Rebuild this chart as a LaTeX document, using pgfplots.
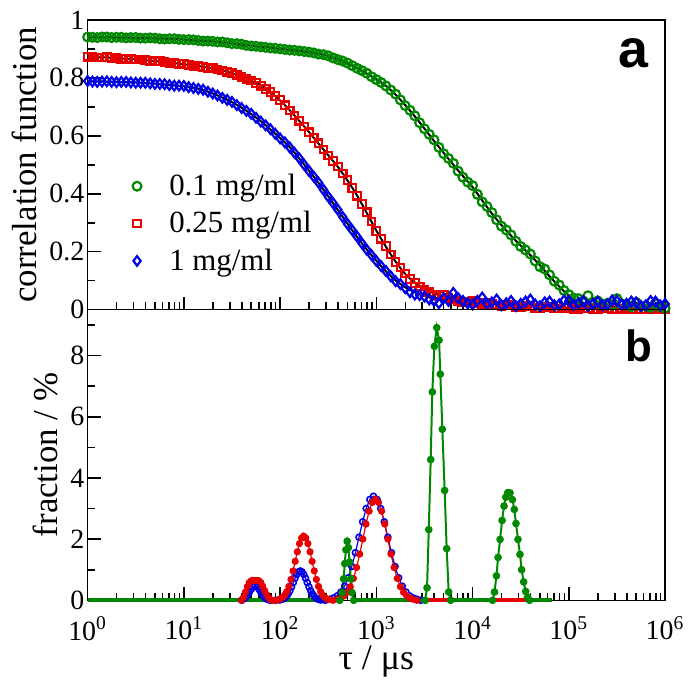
\documentclass[border=0pt]{standalone}
\usepackage{fontspec}
\setmainfont{Liberation Serif}
\newfontfamily\labsans{Liberation Sans}
\usepackage{pgfplots}
\usepackage{pgfplotstable}
\pgfplotsset{compat=1.18}
\usetikzlibrary{calc}
\definecolor{cgreen}{RGB}{0,136,0}
\definecolor{cred}{RGB}{230,0,0}
\definecolor{cblue}{RGB}{0,0,230}

% fitted correlation functions: lx = log10(tau/us)
\pgfplotstableread{
lx g r b
0.0 .940 .872 .788
0.1 .940 .871 .788
0.2 .940 .870 .787
0.3 .939 .868 .786
0.4 .939 .866 .785
0.5 .938 .864 .784
0.6 .937 .861 .782
0.7 .936 .858 .780
0.8 .935 .855 .777
0.9 .934 .851 .774
1.0 .932 .847 .771
1.1 .930 .843 .766
1.2 .928 .838 .758
1.3 .926 .832 .746
1.4 .923 .826 .732
1.5 .919 .816 .716
1.6 .915 .804 .697
1.7 .911 .790 .675
1.8 .907 .774 .650
1.9 .904 .750 .622
2.0 .900 .722 .592
2.1 .897 .688 .561
2.2 .893 .651 .521
2.3 .889 .613 .480
2.4 .883 .573 .437
2.5 .875 .533 .391
2.6 .864 .493 .344
2.7 .850 .446 .297
2.8 .834 .394 .251
2.9 .815 .334 .208
3.0 .795 .273 .169
3.1 .772 .217 .132
3.2 .742 .166 .101
3.3 .706 .123 .077
3.4 .667 .094 .060
3.5 .625 .071 .047
3.6 .582 .056 .039
3.7 .541 .046 .034
3.8 .500 .039 .030
3.9 .461 .034 .028
4.0 .423 .030 .026
4.1 .377 .028 .025
4.2 .332 .026 .023
4.3 .292 .024 .022
4.4 .255 .022 .020
4.5 .221 .019 .018
4.6 .188 .016 .015
4.7 .153 .013 .012
4.8 .115 .010 .010
4.9 .080 .008 .008
5.0 .048 .006 .006
5.1 .030 .005 .005
5.2 .018 .004 .004
5.3 .012 .004 .004
5.4 .008 .003 .003
5.5 .006 .003 .003
5.6 .004 .003 .003
5.7 .003 .002 .002
5.8 .003 .002 .002
5.9 .002 .002 .002
6.0 .002 .002 .002
}\fits

% measured correlation functions
\pgfplotstableread{
lx g r b
0.00 .941 .873 .789
0.05 .940 .871 .787
0.10 .939 .870 .786
0.15 .941 .870 .787
0.20 .941 .871 .788
0.25 .939 .869 .786
0.30 .940 .868 .785
0.35 .940 .866 .786
0.40 .938 .867 .786
0.45 .939 .864 .784
0.50 .939 .863 .783
0.55 .937 .863 .783
0.60 .937 .862 .783
0.65 .938 .859 .781
0.70 .937 .857 .779
0.75 .935 .857 .779
0.80 .934 .856 .778
0.85 .935 .852 .775
0.90 .935 .850 .773
0.95 .933 .849 .773
1.00 .932 .848 .772
1.05 .932 .845 .768
1.10 .931 .842 .765
1.15 .929 .841 .762
1.20 .927 .838 .759
1.25 .927 .835 .752
1.30 .926 .833 .746
1.35 .924 .829 .739
1.40 .924 .825 .731
1.45 .921 .821 .724
1.50 .918 .817 .717
1.55 .918 .810 .706
1.60 .916 .803 .696
1.65 .912 .797 .686
1.70 .910 .791 .676
1.75 .909 .782 .662
1.80 .907 .773 .649
1.85 .905 .762 .636
1.90 .903 .751 .623
1.95 .902 .737 .607
2.00 .900 .723 .591
2.05 .898 .705 .577
2.10 .896 .687 .560
2.15 .895 .670 .541
2.20 .893 .652 .522
2.25 .891 .632 .500
2.30 .889 .612 .479
2.35 .886 .593 .459
2.40 .882 .574 .438
2.45 .880 .553 .414
2.50 .876 .532 .390
2.55 .869 .513 .368
2.60 .863 .494 .345
2.65 .858 .470 .320
2.70 .851 .447 .296
2.75 .842 .420 .274
2.80 .833 .393 .252
2.85 .825 .365 .229
2.90 .816 .336 .207
2.95 .804 .304 .188
3.00 .794 .272 .168
3.05 .784 .245 .150
3.10 .772 .219 .133
3.15 .758 .190 .115
3.20 .744 .165 .098
3.25 .724 .145 .088
3.30 .704 .125 .074
3.35 .688 .106 .060
3.40 .669 .092 .052
3.45 .645 .080 .050
3.50 .624 .068 .045
3.55 .605 .060 .035
3.60 .586 .052 .030
3.65 .560 .048 .022
3.70 .538 .050 .040
3.75 .522 .040 .030
3.80 .505 .035 .058
3.85 .478 .030 .040
3.90 .457 .025 .030
3.95 .440 .028 .022
4.00 .428 .030 .018
4.05 .398 .022 .030
4.10 .372 .018 .042
4.15 .356 .024 .020
4.20 .335 .020 .025
4.25 .310 .014 .035
4.30 .288 .012 .015
4.35 .275 .018 .022
4.40 .258 .015 .030
4.45 .236 .010 .012
4.50 .218 .008 .020
4.55 .206 .012 .028
4.60 .192 .012 .035
4.65 .168 .006 .018
4.70 .148 .005 .012
4.75 .140 .009 .025
4.80 .120 .008 .028
4.85 .098 .004 .015
4.90 .085 .004 .018
4.95 .066 .007 .032
5.00 .052 .006 .030
5.05 .040 .003 .015
5.10 .038 .003 .022
5.15 .030 .005 .030
5.20 .048 .005 .012
5.25 .025 .002 .020
5.30 .030 .002 .028
5.35 .018 .004 .015
5.40 .022 .004 .018
5.45 .015 .002 .032
5.50 .038 .002 .030
5.55 .020 .003 .018
5.60 .015 .003 .020
5.65 .010 .001 .028
5.70 .025 .001 .025
5.75 .012 .002 .012
5.80 .012 .002 .015
5.85 .008 .001 .030
5.90 .020 .001 .028
5.95 .010 .002 .015
6.00 .005 .002 .020
}\meas

% size distributions (fraction / %)
\pgfplotstableread{
lx y
1.60 0
1.62 0.10
1.64 0.27
1.66 0.45
1.68 0.58
1.70 0.64
1.72 0.65
1.74 0.65
1.76 0.65
1.78 0.64
1.80 0.58
1.82 0.46
1.84 0.32
1.86 0.19
1.88 0.08
1.90 0.02
1.92 0
1.96 0
1.981 0.023
2.003 0.048
2.025 0.092
2.047 0.167
2.069 0.284
2.091 0.454
2.113 0.682
2.135 0.961
2.157 1.274
2.179 1.585
2.201 1.853
2.223 2.035
2.245 2.100
2.267 2.035
2.289 1.853
2.311 1.585
2.333 1.274
2.355 0.961
2.377 0.682
2.399 0.454
2.421 0.284
2.443 0.167
2.465 0.092
2.487 0.048
2.509 0.023
2.55 0
2.600 0.037
2.6325 0.075
2.665 0.145
2.6975 0.263
2.730 0.446
2.7625 0.714
2.795 1.072
2.8275 1.511
2.860 2.001
2.8925 2.491
2.925 2.912
2.9575 3.198
2.990 3.300
3.0225 3.198
3.055 2.912
3.0875 2.491
3.120 2.001
3.1525 1.511
3.185 1.072
3.2175 0.714
3.250 0.446
3.2825 0.263
3.315 0.145
3.3475 0.075
3.380 0.037
3.42 0
}\distR

\pgfplotstableread{
lx y
1.60 0
1.62 0.04
1.64 0.09
1.66 0.16
1.68 0.26
1.70 0.36
1.72 0.44
1.74 0.47
1.76 0.44
1.78 0.36
1.80 0.26
1.82 0.16
1.84 0.09
1.86 0.04
1.88 0.02
1.90 0
1.95 0
1.994 0.011
2.012 0.022
2.030 0.042
2.048 0.076
2.066 0.130
2.084 0.208
2.102 0.312
2.120 0.439
2.138 0.582
2.156 0.725
2.174 0.847
2.192 0.930
2.210 0.960
2.228 0.930
2.246 0.847
2.264 0.725
2.282 0.582
2.300 0.439
2.318 0.312
2.336 0.208
2.354 0.130
2.372 0.076
2.390 0.042
2.408 0.022
2.426 0.011
2.47 0
2.520 0.038
2.5575 0.078
2.595 0.149
2.6325 0.271
2.670 0.460
2.7075 0.735
2.745 1.104
2.7825 1.557
2.820 2.062
2.8575 2.566
2.895 3.001
2.9325 3.295
2.970 3.400
3.0075 3.295
3.045 3.001
3.0825 2.566
3.120 2.062
3.1575 1.557
3.195 1.104
3.2325 0.735
3.270 0.460
3.3075 0.271
3.345 0.149
3.3825 0.078
3.420 0.038
3.46 0
}\distB

\pgfplotstableread{
lx y
2.620 0
2.645 0.25
2.660 0.70
2.672 1.20
2.684 1.65
2.697 1.93
2.710 1.72
2.722 1.25
2.735 0.70
2.748 0.25
2.765 0
3.507 0
3.527 0.41
3.545 2.31
3.565 4.60
3.582 6.81
3.603 8.30
3.628 8.91
3.652 8.50
3.665 7.39
3.686 5.59
3.710 3.59
3.731 1.69
3.752 0.27
3.772 0
4.208 0
4.228 0.27
4.248 0.80
4.265 1.40
4.286 1.99
4.307 2.61
4.327 3.08
4.345 3.37
4.366 3.52
4.389 3.51
4.414 3.29
4.434 2.97
4.451 2.51
4.472 1.99
4.493 1.50
4.510 1.00
4.531 0.60
4.552 0.29
4.572 0.10
4.592 0
}\distG

\begin{document}
\begin{tikzpicture}
\begin{axis}[name=top,
  scale only axis, width=290pt, height=145.5pt,
  xmode=log, xmin=1, xmax=1000000, clip=false,
  xtick pos=bottom, ytick pos=left,
  xtick align=inside, ytick align=inside,
  axis line style={line width=0.8pt},
  every tick/.style={black, line width=0.8pt},
  major tick length=6.5pt, minor tick length=3.8pt,
  xtick={1,10,100,1000,10000,100000,1000000},
  tick label style={font=\fontsize{14}{16}\selectfont},
  yticklabel style={inner xsep=1.5pt},
  /pgf/number format/assume math mode=true,
  label style={font=\fontsize{17.5}{20}\selectfont},
  ymin=0, ymax=1,
  ytick={0,0.2,0.4,0.6,0.8,1}, minor ytick={0.1,0.3,0.5,0.7,0.9},
  xticklabels={},
  ylabel={correlation function},
  ylabel style={at={($(rel axis cs:0,0.5)+(-25.5pt,0)$)}, anchor=base},
  legend cell align=left,
  legend style={draw=none, fill=none, at={(rel axis cs:0.067,0.49)}, anchor=north west,
    font=\fontsize{15.5}{18}\selectfont, row sep=4.5pt, column sep=10pt,
    nodes={inner ysep=1pt, inner xsep=4pt}},
]
\coordinate (tl) at (rel axis cs:0,1);
\addlegendimage{only marks, mark=o, mark size=2.2pt, cgreen, mark options={line width=1.1pt}}
\addlegendentry{0.1 mg/ml}
\addlegendimage{only marks, mark=square, mark size=1.9pt, cred, mark options={line width=1.1pt}}
\addlegendentry{0.25 mg/ml}
\addlegendimage{only marks, mark=diamond, mark size=2.4pt, cblue, mark options={line width=1.1pt}}
\addlegendentry{1 mg/ml}
\addplot[forget plot, only marks, mark=square, mark size=1.9pt, cred, mark options={line width=1.1pt}]
  table[x expr=10^\thisrow{lx}, y=r] {\meas};
\addplot[forget plot, only marks, mark=o, mark size=2.2pt, cgreen, mark options={line width=1.1pt}]
  table[x expr=10^\thisrow{lx}, y=g] {\meas};
\addplot[forget plot, only marks, mark=diamond, mark size=2.4pt, cblue, mark options={line width=1.1pt}]
  table[x expr=10^\thisrow{lx}, y=b] {\meas};
\addplot[forget plot, black, line width=1pt, smooth] table[x expr=10^\thisrow{lx}, y=r] {\fits};
\addplot[forget plot, black, line width=1pt, smooth] table[x expr=10^\thisrow{lx}, y=g] {\fits};
\addplot[forget plot, black, line width=1pt, smooth] table[x expr=10^\thisrow{lx}, y=b] {\fits};
% y tick marks on the left axis (6.5pt = 0.1345 decade, 3.8pt = 0.0786 decade)
\draw[line width=0.8pt] (axis cs:1,0.2) -- (axis cs:1.363,0.2);
\draw[line width=0.8pt] (axis cs:1,0.4) -- (axis cs:1.363,0.4);
\draw[line width=0.8pt] (axis cs:1,0.6) -- (axis cs:1.363,0.6);
\draw[line width=0.8pt] (axis cs:1,0.8) -- (axis cs:1.363,0.8);
\draw[line width=0.8pt] (axis cs:1,0.1) -- (axis cs:1.198,0.1);
\draw[line width=0.8pt] (axis cs:1,0.3) -- (axis cs:1.198,0.3);
\draw[line width=0.8pt] (axis cs:1,0.5) -- (axis cs:1.198,0.5);
\draw[line width=0.8pt] (axis cs:1,0.7) -- (axis cs:1.198,0.7);
\draw[line width=0.8pt] (axis cs:1,0.9) -- (axis cs:1.198,0.9);
\node[font=\labsans\bfseries\fontsize{27}{30}\selectfont] at (rel axis cs:0.945,0.885) {a};
\end{axis}

\begin{axis}[name=bot,
  at={(top.south west)}, anchor=north west,
  scale only axis, width=290pt, height=146pt,
  xmode=log, xmin=1, xmax=1000000, clip=false,
  xtick pos=bottom, ytick pos=left,
  xtick align=inside, ytick align=inside,
  axis line style={line width=0.8pt},
  every tick/.style={black, line width=0.8pt},
  major tick length=6.5pt, minor tick length=3.8pt,
  xtick={1,10,100,1000,10000,100000,1000000},
  tick label style={font=\fontsize{14}{16}\selectfont},
  yticklabel style={inner xsep=1.5pt},
  /pgf/number format/assume math mode=true,
  label style={font=\fontsize{17.5}{20}\selectfont},
  ymin=0, ymax=9.5,
  ytick={0,2,4,6,8}, minor ytick={1,3,5,7,9},
  xticklabels={10\textsuperscript{0},10\textsuperscript{1},10\textsuperscript{2},10\textsuperscript{3},10\textsuperscript{4},10\textsuperscript{5},10\textsuperscript{6}},
  xticklabel style={inner ysep=0pt, yshift=-8pt},
  xlabel={τ / μs},
  xlabel style={font=\fontsize{18}{21}\selectfont, at={($(rel axis cs:0.5,0)+(0,-34.5pt)$)}, anchor=base, inner ysep=0pt},
  ylabel={fraction / \%},
  ylabel style={at={($(rel axis cs:0,0.5)+(-15pt,0)$)}, anchor=base},
]
\coordinate (br) at (rel axis cs:1,0);
\addplot[cblue, line width=2pt] coordinates {(2884,0) (67608,0)};
\addplot[cred, line width=2pt] coordinates {(2630,0) (67608,0)};
\addplot[cblue, line width=0.6pt, mark=o, mark size=1.5pt, mark options={line width=0.8pt, fill=white}]
  table[x expr=10^\thisrow{lx}, y=y] {\distB};
\addplot[cred, line width=0.6pt, mark=*, mark size=1.5pt, mark options={draw=cred, fill=cred}]
  table[x expr=10^\thisrow{lx}, y=y] {\distR};
\addplot[cgreen, line width=2pt] coordinates {(1,0) (416.9,0)};
\addplot[cgreen, line width=2pt] coordinates {(582.1,0) (3214,0)};
\addplot[cgreen, line width=2pt] coordinates {(5916,0) (16144,0)};
\addplot[cgreen, line width=2pt] coordinates {(39084,0) (67608,0)};
\addplot[cgreen, line width=1pt, mark=*, mark size=1.4pt, mark options={fill=cgreen}]
  table[x expr=10^\thisrow{lx}, y=y] {\distG};
% y tick marks on the left axis
\draw[line width=0.8pt] (axis cs:1,2) -- (axis cs:1.363,2);
\draw[line width=0.8pt] (axis cs:1,4) -- (axis cs:1.363,4);
\draw[line width=0.8pt] (axis cs:1,6) -- (axis cs:1.363,6);
\draw[line width=0.8pt] (axis cs:1,8) -- (axis cs:1.363,8);
\draw[line width=0.8pt] (axis cs:1,1) -- (axis cs:1.198,1);
\draw[line width=0.8pt] (axis cs:1,3) -- (axis cs:1.198,3);
\draw[line width=0.8pt] (axis cs:1,5) -- (axis cs:1.198,5);
\draw[line width=0.8pt] (axis cs:1,7) -- (axis cs:1.198,7);
\draw[line width=0.8pt] (axis cs:1,9) -- (axis cs:1.198,9);
\node[font=\labsans\bfseries\fontsize{22}{26}\selectfont] at (rel axis cs:0.955,0.877) {b};
\end{axis}
\path[use as bounding box] ($(tl)+(-44pt,10pt)$) rectangle ($(br)+(11.5pt,-40pt)$);
\end{tikzpicture}
\end{document}
